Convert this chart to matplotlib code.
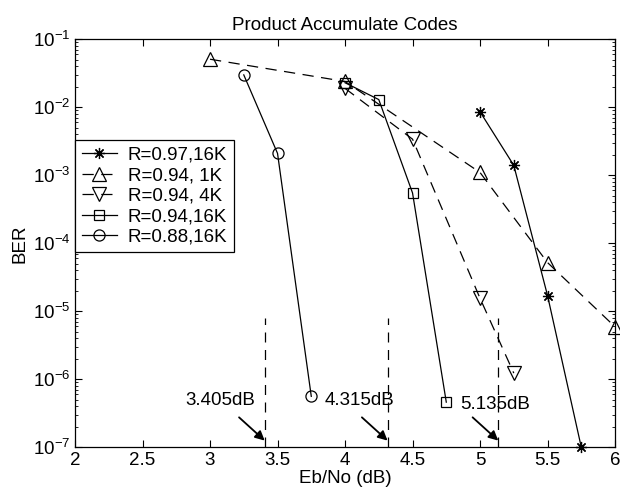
import matplotlib
matplotlib.use('Agg')
import matplotlib.pyplot as plt
from matplotlib.patches import FancyArrowPatch
from matplotlib.ticker import LogLocator, NullFormatter

plt.rcParams['font.family'] = ['Liberation Sans', 'DejaVu Sans']
plt.rcParams['mathtext.default'] = 'regular'

# Eb/No (dB) and BER for each code
x_097_16k = [5.0, 5.25, 5.5, 5.75]
ber_097_16k = [8.6e-3, 1.4e-3, 1.7e-5, 1.0e-7]

x_094_1k = [3.0, 4.0, 5.0, 5.5, 6.0]
ber_094_1k = [5.1e-2, 2.4e-2, 1.1e-3, 5.2e-5, 5.9e-6]

x_094_4k = [4.0, 4.5, 5.0, 5.25]
ber_094_4k = [1.9e-2, 3.4e-3, 1.55e-5, 1.23e-6]

x_094_16k = [4.0, 4.25, 4.5, 4.75]
ber_094_16k = [2.3e-2, 1.3e-2, 5.5e-4, 4.6e-7]

x_088_16k = [3.25, 3.5, 3.75]
ber_088_16k = [3.0e-2, 2.1e-3, 5.6e-7]

labels = ['R=0.97,16K', 'R=0.94, 1K', 'R=0.94, 4K', 'R=0.94,16K', 'R=0.88,16K']

xticks = [2, 2.5, 3, 3.5, 4, 4.5, 5, 5.5, 6]
xticklabels = ['2', '2.5', '3', '3.5', '4', '4.5', '5', '5.5', '6']
yticks = [1e-7, 1e-6, 1e-5, 1e-4, 1e-3, 1e-2, 1e-1]
yticklabels = ['$10^{-7}$', '$10^{-6}$', '$10^{-5}$', '$10^{-4}$',
               '$10^{-3}$', '$10^{-2}$', '$10^{-1}$']

# thresholds (dashed vertical lines)
thresholds = [3.405, 4.315, 5.135]
thr_labels = ['3.405dB', '4.315dB', '5.135dB']
thr_top = 8e-6
thr_bottom = 1e-7
arrow_tip = 1.25e-7
arrow_tail = 2.75e-7
arrow_dx = 0.19

fig = plt.figure(figsize=(6.2, 4.98), dpi=100)
ax = fig.add_axes([0.121, 0.102, 0.871, 0.819])

common = dict(color='k', lw=0.9, clip_on=False, markerfacecolor='none',
              markeredgecolor='k', markeredgewidth=0.9)
ax.semilogy(x_097_16k, ber_097_16k, '-', marker=(8, 2, 0), ms=8, label=labels[0], **common)
ax.semilogy(x_094_1k, ber_094_1k, '--', marker='^', ms=10, dashes=(9, 6), label=labels[1], **common)
ax.semilogy(x_094_4k, ber_094_4k, '--', marker='v', ms=10, dashes=(9, 6), label=labels[2], **common)
ax.semilogy(x_094_16k, ber_094_16k, '-', marker='s', ms=7, label=labels[3], **common)
ax.semilogy(x_088_16k, ber_088_16k, '-', marker='o', ms=8, label=labels[4], **common)

text_offsets = [(-32, 29), (-20, 29), (-2, 26)]
for t, lab, off in zip(thresholds, thr_labels, text_offsets):
    ax.plot([t, t], [thr_bottom, thr_top], color='k', lw=0.9, dashes=(8, 6))
    arr = FancyArrowPatch((t - arrow_dx, arrow_tail), (t, arrow_tip),
                          arrowstyle='-|>', color='k', lw=1.3, mutation_scale=14,
                          shrinkA=0, shrinkB=0)
    ax.add_patch(arr)
    ax.annotate(lab, xy=(t, arrow_tip), xytext=off, textcoords='offset points',
                ha='center', va='center', fontsize=13.5)

ax.set_xlim(2, 6)
ax.set_ylim(1e-7, 1e-1)
ax.set_xticks(xticks)
ax.set_xticklabels(xticklabels)
ax.set_yticks(yticks)
ax.set_yticklabels(yticklabels)
ax.yaxis.set_minor_locator(LogLocator(base=10, subs=range(2, 10), numticks=20))
ax.yaxis.set_minor_formatter(NullFormatter())
ax.tick_params(which='both', direction='in', top=True, right=True, labelsize=13.5)
ax.tick_params(which='major', length=5, width=0.8)
ax.tick_params(which='minor', length=2.5, width=0.6)
for s in ax.spines.values():
    s.set_linewidth(0.9)

ax.set_title('Product Accumulate Codes', fontsize=13.5, pad=7)
ax.set_xlabel('Eb/No (dB)', fontsize=13.5, labelpad=1)
ax.set_ylabel('BER', fontsize=13.5, labelpad=3)

leg = ax.legend(loc='upper left', bbox_to_anchor=(0, 0.753), fontsize=13.5,
                frameon=True, fancybox=False, edgecolor='k', framealpha=1,
                handlelength=1.9, handletextpad=0.55, borderpad=0.35,
                labelspacing=0.18, borderaxespad=0)
leg.get_frame().set_linewidth(0.9)

fig.savefig('out.png', dpi=100)
